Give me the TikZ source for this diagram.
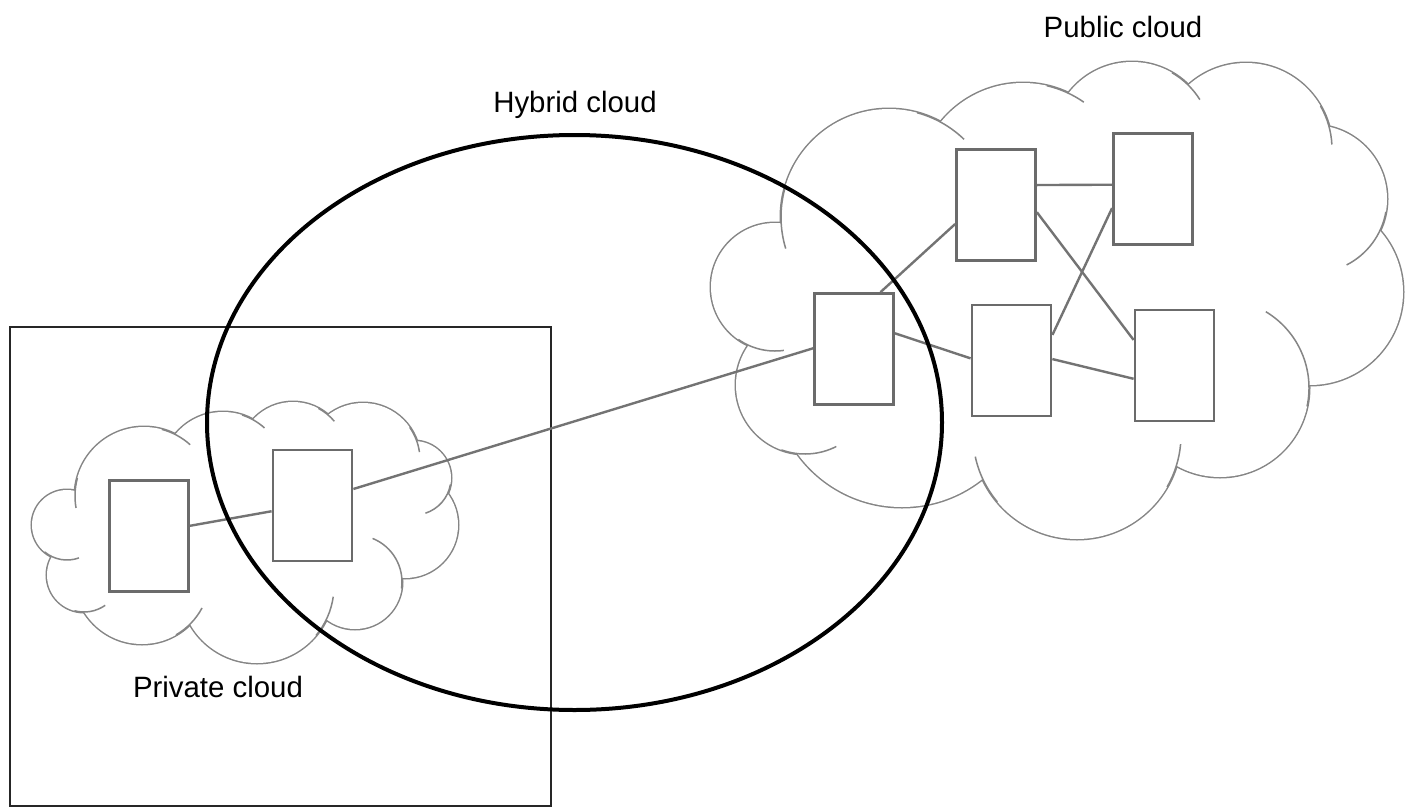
\documentclass[tikz,border=0pt]{standalone}
\usepackage{fontspec}
\setmainfont{Liberation Sans}

\begin{document}
\begin{tikzpicture}[x=0.5pt,y=-0.5pt,
    srv/.style={draw=black!58,line width=1.4pt,fill=white,minimum width=39.5pt,minimum height=55.5pt,inner sep=0pt},
    link/.style={draw=black!55,line width=1.2pt},
    lobe/.style={draw=black!48,line width=1.5pt},
    hook/.style={draw=black!48,line width=0.75pt},
    lbl/.style={font=\fontsize{14.7}{16}\selectfont,anchor=base}]

            \useasboundingbox (0,0) rectangle (1409,809);

            % private side frame
            \draw[black!85,line width=1.2pt] (10,327) rectangle (551,806);

            % public cloud: lobes, then white inside
            \foreach \cx/\cy/\r in {775/287/64,889/217/108,1023/189/106,1132/142/80,1246/149/86,
                    1313/199/74,1310/292/93,1220/388/89,1077/435/104,902/378/129,805/385/69}
                \draw[lobe] (\cx,\cy) circle [radius=\r];
            % private cloud
            \foreach \cx/\cy/\r in {67/525/35,144/496/69,223/474/62,293/456/54,363/460/57,
                    414/478/37,405/525/53,355/582/47,257/586/77,142/576/68,84/575/37}
                \draw[lobe] (\cx,\cy) circle [radius=\r];

            \foreach \cx/\cy/\r in {775/287/64,889/217/108,1023/189/106,1132/142/80,1246/149/86,
                    1313/199/74,1310/292/93,1220/388/89,1077/435/104,902/378/129,805/385/69,
                    67/525/35,144/496/69,223/474/62,293/456/54,363/460/57,
                    414/478/37,405/525/53,355/582/47,257/586/77,142/576/68,84/575/37}
                \fill[white] (\cx,\cy) circle [radius=\r];
            \fill[white] (775,287) -- (889,217) -- (1023,189) -- (1132,142) -- (1246,149) -- (1313,199)
                -- (1310,292) -- (1220,388) -- (1077,435) -- (902,378) -- (805,385) -- cycle;
            \fill[white] (67,525) -- (144,496) -- (223,474) -- (293,456) -- (363,460) -- (414,478)
                -- (405,525) -- (355,582) -- (257,586) -- (142,576) -- (84,575) -- cycle;

            % the little tails where lobes meet
            \foreach \cx/\cy/\r/\a/\b in {889/217/108/195/163,775/287/64/125/82,889/217/108/285/314,
                    1023/189/106/283/305,1132/142/80/300/328,1246/149/86/330/357,1313/199/74/10/63,
                    1220/388/89/301/372,1077/435/104/5/30,1077/435/104/140/168,805/385/69/63/110,
                    144/496/69/170/195,144/496/69/285/312,223/474/62/288/312,293/456/54/298/320,
                    363/460/57/325/352,414/478/37/10/72,355/582/47/292/368,257/586/77/40/8,
                    142/576/68/60/28,84/575/37/105/55,67/525/35/130/70}
                \draw[hook] (\cx,\cy) ++(\a:\r) arc [start angle=\a,end angle=\b,radius=\r];

            % servers
            \node[srv] (q1) at (149,536) {};
            \node[srv] (q2) at (312.5,505.5) {};
            \node[srv] (pa) at (854,349) {};
            \node[srv] (pb) at (996,205) {};
            \node[srv] (pc) at (1153,189) {};
            \node[srv] (pd) at (1011.5,360.5) {};
            \node[srv] (pe) at (1174.5,365.5) {};

            \path[link] (q1.14) edge (q2.188)
                        (q2.22) edge (pa.179)
                        (pa.65) edge (pb.205)
                        (pa.21) edge (pd.177)
                        (pb.26) edge (pc.174)
                        (pb.-10) edge (pe.148)
                        (pd.32) edge (pc.205)
                        (pd.2) edge (pe.198);

            % hybrid cloud
            \draw[black,line width=2pt] (574.5,422.5) ellipse [x radius=367.5,y radius=287.5];

            \node[lbl] (hyb) at (575,112) {Hybrid cloud};
            \node[lbl] (pub) at (1123,37) {Public cloud};
            \node[lbl] (priv) at (218,697) {Private cloud};

\end{tikzpicture}
\end{document}
